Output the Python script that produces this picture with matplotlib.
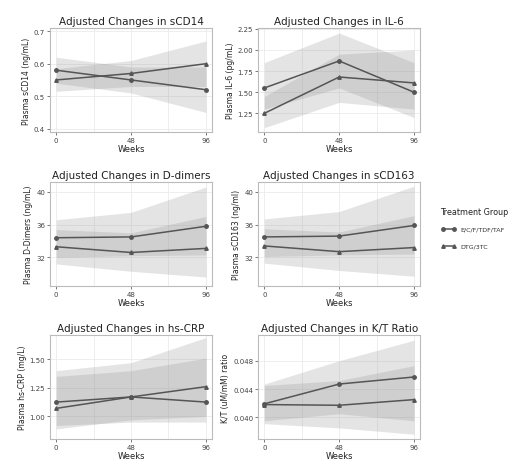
import matplotlib.pyplot as plt

weeks = [0, 48, 96]
groups = ["E/C/F/TDF/TAF", "DTG/3TC"]

# sCD14
scd14_a = [0.58, 0.55, 0.52]
scd14_a_lo = [0.54, 0.51, 0.45]
scd14_a_hi = [0.62, 0.59, 0.59]
scd14_b = [0.55, 0.57, 0.60]
scd14_b_lo = [0.515, 0.53, 0.53]
scd14_b_hi = [0.585, 0.61, 0.67]

# IL-6
il6_a = [1.55, 1.87, 1.50]
il6_a_lo = [1.30, 1.55, 1.20]
il6_a_hi = [1.85, 2.20, 1.85]
il6_b = [1.25, 1.68, 1.61]
il6_b_lo = [1.08, 1.38, 1.30]
il6_b_hi = [1.45, 1.95, 2.00]

# D-dimers
dd_a = [34.4, 34.5, 35.8]
dd_a_lo = [32.0, 32.2, 32.3]
dd_a_hi = [36.6, 37.5, 40.6]
dd_b = [33.3, 32.6, 33.1]
dd_b_lo = [31.2, 30.3, 29.6]
dd_b_hi = [35.4, 35.0, 37.0]

# sCD163
s163_a = [34.5, 34.6, 35.9]
s163_a_lo = [32.1, 32.3, 32.4]
s163_a_hi = [36.7, 37.6, 40.7]
s163_b = [33.4, 32.7, 33.2]
s163_b_lo = [31.3, 30.4, 29.7]
s163_b_hi = [35.5, 35.1, 37.1]

# hs-CRP
crp_a = [1.125, 1.17, 1.125]
crp_a_lo = [0.92, 0.95, 0.95]
crp_a_hi = [1.35, 1.40, 1.51]
crp_b = [1.07, 1.17, 1.26]
crp_b_lo = [0.89, 0.97, 1.00]
crp_b_hi = [1.40, 1.47, 1.69]

# K/T ratio
kt_a = [0.0419, 0.0447, 0.0457]
kt_a_lo = [0.0395, 0.0405, 0.0395]
kt_a_hi = [0.0447, 0.0480, 0.0509]
kt_b = [0.0418, 0.0417, 0.0425]
kt_b_lo = [0.0391, 0.0385, 0.0376]
kt_b_hi = [0.0445, 0.0452, 0.0473]

panels = [
    ("Adjusted Changes in sCD14", "Plasma sCD14 (ng/mL)",
     (scd14_a, scd14_a_lo, scd14_a_hi), (scd14_b, scd14_b_lo, scd14_b_hi),
     [0.4, 0.5, 0.6, 0.7], ["0.4", "0.5", "0.6", "0.7"], (0.39, 0.71)),
    ("Adjusted Changes in IL-6", "Plasma IL-6 (pg/mL)",
     (il6_a, il6_a_lo, il6_a_hi), (il6_b, il6_b_lo, il6_b_hi),
     [1.25, 1.5, 1.75, 2.0, 2.25], ["1.25", "1.50", "1.75", "2.00", "2.25"], (1.03, 2.26)),
    ("Adjusted Changes in D-dimers", "Plasma D-Dimers (ng/mL)",
     (dd_a, dd_a_lo, dd_a_hi), (dd_b, dd_b_lo, dd_b_hi),
     [32, 36, 40], ["32", "36", "40"], (28.5, 41.2)),
    ("Adjusted Changes in sCD163", "Plasma sCD163 (ng/ml)",
     (s163_a, s163_a_lo, s163_a_hi), (s163_b, s163_b_lo, s163_b_hi),
     [32, 36, 40], ["32", "36", "40"], (28.5, 41.2)),
    ("Adjusted Changes in hs-CRP", "Plasma hs-CRP (mg/L)",
     (crp_a, crp_a_lo, crp_a_hi), (crp_b, crp_b_lo, crp_b_hi),
     [1.0, 1.25, 1.5], ["1.00", "1.25", "1.50"], (0.80, 1.71)),
    ("Adjusted Changes in K/T Ratio", "K/T (uM/mM) ratio",
     (kt_a, kt_a_lo, kt_a_hi), (kt_b, kt_b_lo, kt_b_hi),
     [0.040, 0.044, 0.048], ["0.040", "0.044", "0.048"], (0.0369, 0.0516)),
]

fig = plt.figure(figsize=(5.1, 4.6), dpi=100, facecolor="white")

lefts = [0.098, 0.506]
bottoms = [0.711, 0.376, 0.043]
line_col = "#555555"

for i, (title, ylab, a, b, yt, ytl, ylim) in enumerate(panels):
    ax = fig.add_axes([lefts[i % 2], bottoms[i // 2], 0.318, 0.226])
    for (mean, lo, hi), mk in zip((a, b), ("o", "^")):
        ax.fill_between(weeks, lo, hi, color="#888888", alpha=0.22, linewidth=0)
        ax.plot(weeks, mean, color=line_col, lw=1.1, marker=mk, ms=2.5)
    ax.set_xlim(-4, 100)
    ax.set_ylim(*ylim)
    ax.set_xticks(weeks)
    ax.set_xticklabels(["0", "48", "96"])
    ax.set_xticks([24, 72], minor=True)
    ax.set_yticks(yt)
    ax.set_yticklabels(ytl)
    ax.grid(True, which="both", color="#ebebeb", lw=0.6)
    ax.set_axisbelow(True)
    for s in ax.spines.values():
        s.set_color("#bbbbbb")
        s.set_linewidth(0.8)
    ax.tick_params(which="major", labelsize=5, colors="#444444", length=2, width=0.5, pad=1.5)
    ax.tick_params(which="minor", length=0)
    ax.set_title(title, fontsize=7.5, color="#222222", pad=3)
    ax.set_ylabel(ylab, fontsize=5.5, color="#222222", labelpad=2)
    ax.set_xlabel("Weeks", fontsize=6, color="#222222", labelpad=1)

# legend for the two treatment arms
fig.text(0.862, 0.538, "Treatment Group", fontsize=5.8, color="#222222", va="center")
for j, (g, mk) in enumerate(zip(groups, ("o", "^"))):
    y = 0.500 - j * 0.037
    fig.lines.append(plt.Line2D([0.868, 0.89], [y, y], transform=fig.transFigure,
                                color=line_col, lw=1.1, marker=mk, ms=2.5,
                                markevery=[0, 1]))
    fig.text(0.902, y, g, fontsize=4.6, color="#333333", va="center")

fig.savefig("out.png", dpi=100)
